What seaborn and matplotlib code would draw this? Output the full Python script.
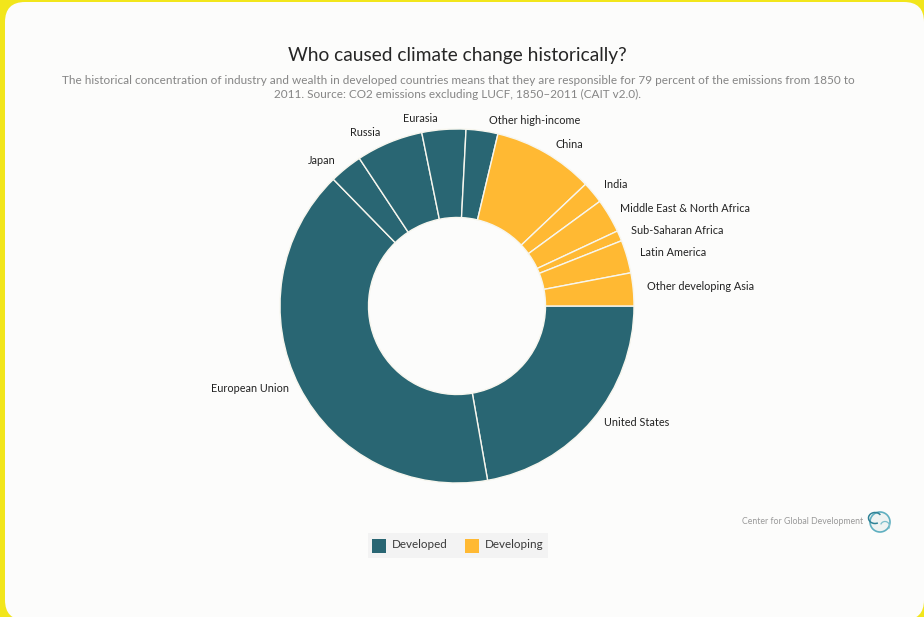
import matplotlib
matplotlib.use("Agg")
import matplotlib.pyplot as plt
from matplotlib.patches import FancyBboxPatch, Circle, Arc, Rectangle
import seaborn as sns

regions = ["United States", "European Union", "Japan", "Russia", "Eurasia",
           "Other high-income", "China", "India", "Middle East & North Africa",
           "Sub-Saharan Africa", "Latin America", "Other developing Asia"]
shares = [22.2, 40.4, 3.0, 6.1, 4.0, 2.9, 9.2, 2.0, 3.1, 0.95, 3.0, 3.0]
groups = ["Developed"] * 6 + ["Developing"] * 6
group_names = ["Developed", "Developing"]
group_colors = ["#296673", "#FFB933"]

sns.set_theme(style="white")
plt.rcParams["font.family"] = ["Lato", "DejaVu Sans"]

W, H = 924, 617
fig = plt.figure(figsize=(W / 100, H / 100), dpi=100, facecolor="#F2E61B")

# rounded card behind the chart, running past the right and bottom edges
bg = fig.add_axes([0, 0, 1, 1])
bg.set_xlim(0, W)
bg.set_ylim(H, 0)
bg.axis("off")
bg.add_patch(FancyBboxPatch((5, 2), W - 5, H + 1, mutation_scale=1,
                            boxstyle="round,pad=0,rounding_size=20",
                            fc="#FCFCFB", ec="none"))

palette = dict(zip(group_names, group_colors))
colors = [palette[g] for g in groups]

# donut centred on (457, 306) with an outer radius of 177 px
R = 177
ax = fig.add_axes([(457 - R) / W, 1 - (306 + R) / H, 2 * R / W, 2 * R / H])
ax.pie(shares, colors=colors, startangle=0, counterclock=False, radius=1,
       wedgeprops=dict(width=0.5, edgecolor="#F7F6EE", linewidth=1.0))
ax.set_xlim(-1, 1)
ax.set_ylim(-1, 1)

# slice labels, anchored in card pixels
label_pos = [(604, 423, "left"), (289, 389, "right"), (336, 160, "right"),
             (380, 133, "right"), (438, 119, "right"), (489, 120, "left"),
             (555, 144, "left"), (604, 185, "left"), (620, 209, "left"),
             (631, 230, "left"), (640, 252, "left"), (647, 286, "left")]
for name, (x, y, ha) in zip(regions, label_pos):
    bg.text(x, y, name, ha=ha, va="center", fontsize=7.8, color="#222222")

bg.text(457.5, 55, "Who caused climate change historically?", ha="center", va="center",
        fontsize=13.8, color="#262626")
bg.text(458, 87.5,
        "The historical concentration of industry and wealth in developed countries means that they are responsible for 79 percent of the emissions from 1850 to\n"
        "2011. Source: CO2 emissions excluding LUCF, 1850\u20132011 (CAIT v2.0).",
        ha="center", va="center", fontsize=8.5, color="#858585", linespacing=1.4)

# legend strip
bg.add_patch(Rectangle((368, 533), 180, 25, fc="#F3F3F3", ec="none"))
for x, name, col in zip((372, 465), group_names, group_colors):
    bg.add_patch(Rectangle((x, 538.5), 14, 14, fc=col, ec="none"))
    bg.text(x + 20, 545, name, ha="left", va="center", fontsize=8.4, color="#3A3A3A")

# publisher credit with its small globe mark
bg.text(863, 522, "Center for Global Development", ha="right", va="center",
        fontsize=6.3, color="#9A9A9A")
bg.add_patch(Circle((880, 522), 10, fc="#EFF3F2", ec="#5FAFC0", lw=1.2))
bg.add_patch(Arc((875, 518), 13, 11, theta1=60, theta2=330, ec="#2F8296", lw=1.1))
bg.add_patch(Arc((885, 526), 9, 9, theta1=200, theta2=40, ec="#7DBECB", lw=0.9))

fig.savefig("out.png", dpi=100, facecolor=fig.get_facecolor())
